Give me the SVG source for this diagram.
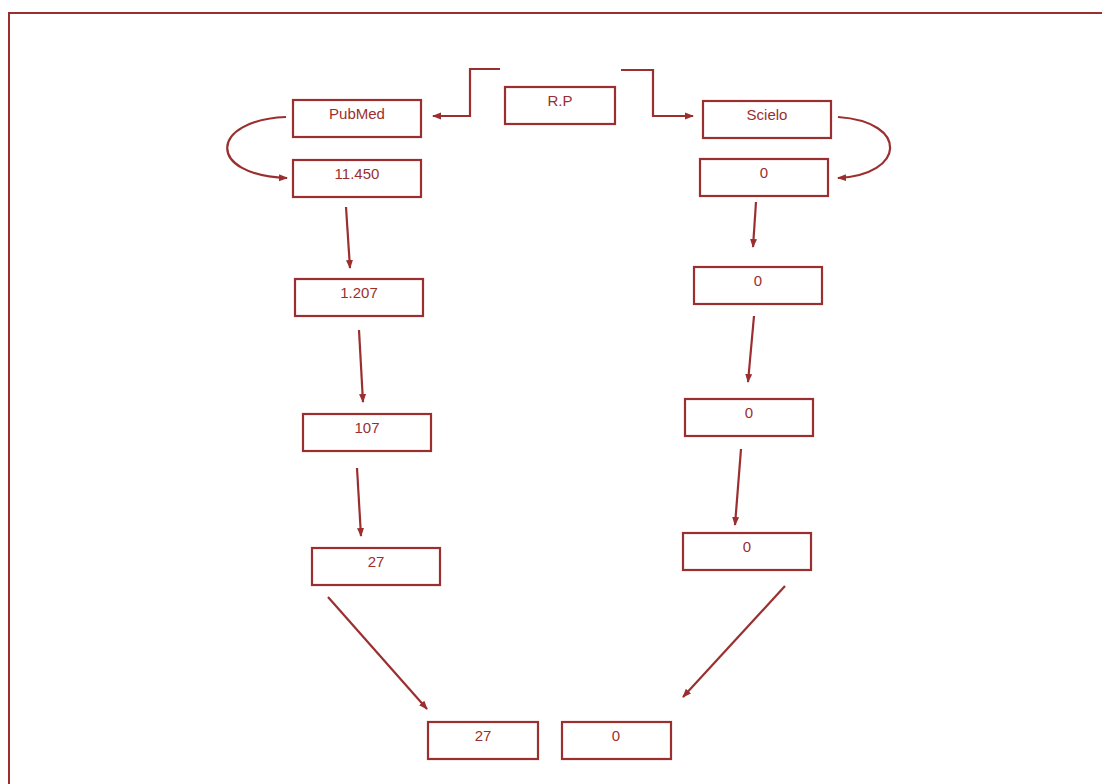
<svg xmlns="http://www.w3.org/2000/svg" width="1102" height="784" viewBox="0 0 1102 784">
<style>
.b{fill:#fff;stroke:#9b2f2f;stroke-width:2.2}
.t{font-family:"Liberation Sans",Arial,sans-serif;font-size:15px;fill:#9b2f2f;text-anchor:middle}
.c{fill:none;stroke:#9b2f2f;stroke-width:2.2}
</style>
<defs>
<marker id="a" markerWidth="9" markerHeight="9" refX="8" refY="4.5" orient="auto" markerUnits="userSpaceOnUse">
<path d="M0,1 L9,4.5 L0,8 Z" fill="#9b2f2f"/>
</marker>
</defs>
<rect width="1102" height="784" fill="#fff"/>
<path d="M9,784 V13 H1102" fill="none" stroke="#9b2f2f" stroke-width="2"/>
<g id="connectors">
<path class="c" d="M500,69 H470 V116 H433" marker-end="url(#a)"/>
<path class="c" d="M621,70 H653 V116 H693" marker-end="url(#a)"/>
<path class="c" d="M286,117 C210,120 205,175 287,178" marker-end="url(#a)"/>
<path class="c" d="M838,117 C910,122 905,175 838,178" marker-end="url(#a)"/>
<path class="c" d="M346,207 L350,268" marker-end="url(#a)"/>
<path class="c" d="M359,330 L363,402" marker-end="url(#a)"/>
<path class="c" d="M357,468 L361,536" marker-end="url(#a)"/>
<path class="c" d="M756,202 L753,247" marker-end="url(#a)"/>
<path class="c" d="M754,316 L748,382" marker-end="url(#a)"/>
<path class="c" d="M741,449 L735,525" marker-end="url(#a)"/>
<path class="c" d="M328,597 L427,709" marker-end="url(#a)"/>
<path class="c" d="M785,586 L683,697" marker-end="url(#a)"/>
</g>
<g id="rp"><rect class="b" x="505" y="87" width="110" height="37"/><text class="t" x="560" y="106">R.P</text></g>
<g id="pubmed"><rect class="b" x="293" y="100" width="128" height="37"/><text class="t" x="357" y="119">PubMed</text></g>
<g id="scielo"><rect class="b" x="703" y="101" width="128" height="37"/><text class="t" x="767" y="120">Scielo</text></g>
<g id="l1"><rect class="b" x="293" y="160" width="128" height="37"/><text class="t" x="357" y="179">11.450</text></g>
<g id="r1"><rect class="b" x="700" y="159" width="128" height="37"/><text class="t" x="764" y="178">0</text></g>
<g id="l2"><rect class="b" x="295" y="279" width="128" height="37"/><text class="t" x="359" y="298">1.207</text></g>
<g id="r2"><rect class="b" x="694" y="267" width="128" height="37"/><text class="t" x="758" y="286">0</text></g>
<g id="l3"><rect class="b" x="303" y="414" width="128" height="37"/><text class="t" x="367" y="433">107</text></g>
<g id="r3"><rect class="b" x="685" y="399" width="128" height="37"/><text class="t" x="749" y="418">0</text></g>
<g id="l4"><rect class="b" x="312" y="548" width="128" height="37"/><text class="t" x="376" y="567">27</text></g>
<g id="r4"><rect class="b" x="683" y="533" width="128" height="37"/><text class="t" x="747" y="552">0</text></g>
<g id="bl"><rect class="b" x="428" y="722" width="110" height="37"/><text class="t" x="483" y="741">27</text></g>
<g id="br"><rect class="b" x="562" y="722" width="109" height="37"/><text class="t" x="616" y="741">0</text></g>
</svg>
